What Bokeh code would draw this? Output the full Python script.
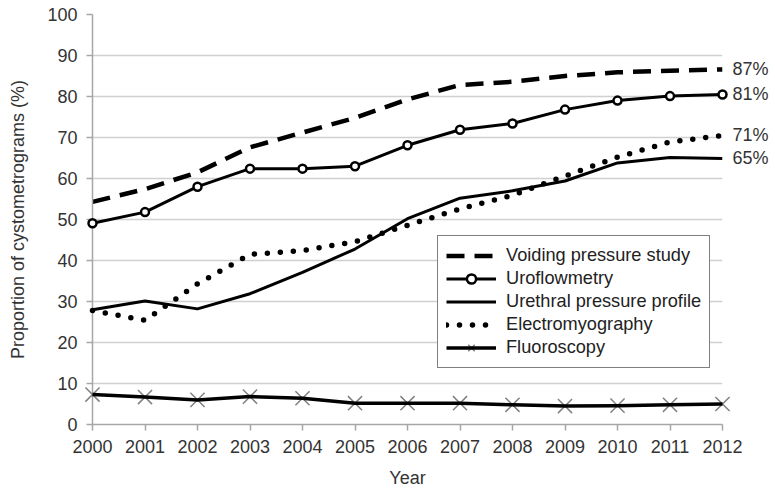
from bokeh.plotting import figure
from bokeh.models import Range1d, FixedTicker, ColumnDataSource
from bokeh.core.properties import value
from bokeh.embed import file_html
from bokeh.resources import INLINE

# ---- data ----
years = [2000, 2001, 2002, 2003, 2004, 2005, 2006, 2007, 2008, 2009, 2010, 2011, 2012]
voiding = [54.3, 57.4, 61.5, 67.6, 71.2, 74.8, 79.3, 82.8, 83.6, 85.0, 85.9, 86.3, 86.6]
uroflow = [49.1, 51.8, 58.0, 62.4, 62.4, 63.0, 68.1, 71.9, 73.4, 76.8, 79.0, 80.1, 80.5]
urethral = [28.0, 30.1, 28.2, 31.9, 37.1, 42.8, 50.2, 55.2, 57.0, 59.4, 63.8, 65.1, 64.9]
emg = [27.8, 25.4, 34.3, 41.5, 42.4, 44.6, 48.6, 52.6, 55.9, 60.6, 65.2, 68.9, 70.5]
fluoro = [7.3, 6.7, 6.0, 6.8, 6.4, 5.2, 5.2, 5.2, 4.8, 4.5, 4.6, 4.8, 5.0]

series_names = ["Voiding pressure study", "Uroflowmetry", "Urethral pressure profile",
                "Electromyography", "Fluoroscopy"]
end_labels = ["87%", "81%", "71%", "65%"]
yticks = [0, 10, 20, 30, 40, 50, 60, 70, 80, 90, 100]
x_title = "Year"
y_title = "Proportion of cystometrograms (%)"

FONT = "Liberation Sans"
TXT = "#333333"
AX = "#a6a6a6"

p = figure(width=775, height=493, output_backend="svg", toolbar_location=None,
           x_range=Range1d(years[0], years[-1]), y_range=Range1d(yticks[0], yticks[-1]),
           min_border_left=92, min_border_right=53, min_border_top=14, min_border_bottom=69)
p.outline_line_color = None
p.background_fill_color = "white"
p.xgrid.visible = False
p.ygrid.ticker = FixedTicker(ticks=yticks)
p.ygrid.grid_line_color = "#d0d0d0"
p.ygrid.grid_line_width = 1.5

# axes
xa = p.xaxis[0]
xa.ticker = FixedTicker(ticks=years)
xa.axis_line_color = AX
xa.axis_line_width = 1.5
xa.major_tick_line_color = AX
xa.major_tick_line_width = 1.5
xa.major_tick_out = 6
xa.major_tick_in = 0
xa.minor_tick_line_color = None
xa.major_label_text_font = FONT
xa.major_label_text_font_size = "18px"
xa.major_label_text_color = TXT
xa.major_label_standoff = 9
xa.axis_label = x_title
xa.axis_label_text_font = FONT
xa.axis_label_text_font_size = "18px"
xa.axis_label_text_font_style = "normal"
xa.axis_label_text_color = TXT
xa.axis_label_standoff = 12

ya = p.yaxis[0]
ya.ticker = FixedTicker(ticks=yticks)
ya.axis_line_color = AX
ya.axis_line_width = 1.5
ya.major_tick_line_color = AX
ya.major_tick_line_width = 1.5
ya.major_tick_out = 6
ya.major_tick_in = 0
ya.minor_tick_line_color = None
ya.major_label_text_font = FONT
ya.major_label_text_font_size = "18px"
ya.major_label_text_color = TXT
ya.major_label_standoff = 9
ya.axis_label = y_title
ya.axis_label_text_font = FONT
ya.axis_label_text_font_size = "18px"
ya.axis_label_text_font_style = "normal"
ya.axis_label_text_color = TXT
ya.axis_label_standoff = 16

# series
p.line(years, voiding, line_color="black", line_width=4.5, line_dash="18 10",
       legend_label=series_names[0])
p.line(years, uroflow, line_color="black", line_width=3, line_join="round",
       legend_label=series_names[1])
p.scatter(years, uroflow, marker="circle", size=8, fill_color="white", line_color="black",
          line_width=2.5, legend_label=series_names[1], level="overlay")
p.line(years, urethral, line_color="black", line_width=3, line_join="round",
       legend_label=series_names[2])
p.line(years, emg, line_color="black", line_width=5.5, line_dash="0 13", line_cap="round",
       legend_label=series_names[3], level="overlay")
p.scatter(years, fluoro, marker="x", size=20, line_color="#808080", line_width=1.5,
          legend_label=series_names[4], level="overlay")
p.line(years, fluoro, line_color="black", line_width=3.5, line_join="round",
       legend_label=series_names[4], level="overlay")

# end-of-line percentage labels
src = ColumnDataSource(dict(x=[years[-1]] * 4,
                            y=[voiding[-1], uroflow[-1], emg[-1], urethral[-1]],
                            t=end_labels))
p.text(x="x", y="y", text="t", source=src, x_offset=10, text_baseline="middle",
       text_align="left", text_font=value(FONT), text_font_size="18px",
       text_color=TXT, level="overlay")

lg = p.legend[0]
lg.location = (345, 56)
lg.border_line_color = "black"
lg.border_line_width = 1.5
lg.background_fill_color = "white"
lg.background_fill_alpha = 1
lg.label_text_font = FONT
lg.label_text_font_size = "18.2px"
lg.label_text_color = "#222222"
lg.glyph_width = 50
lg.glyph_height = 23
lg.label_height = 23
lg.spacing = 0
lg.padding = 8
lg.margin = 0
lg.label_standoff = 10

open("out.html", "w").write(file_html(p, INLINE))
